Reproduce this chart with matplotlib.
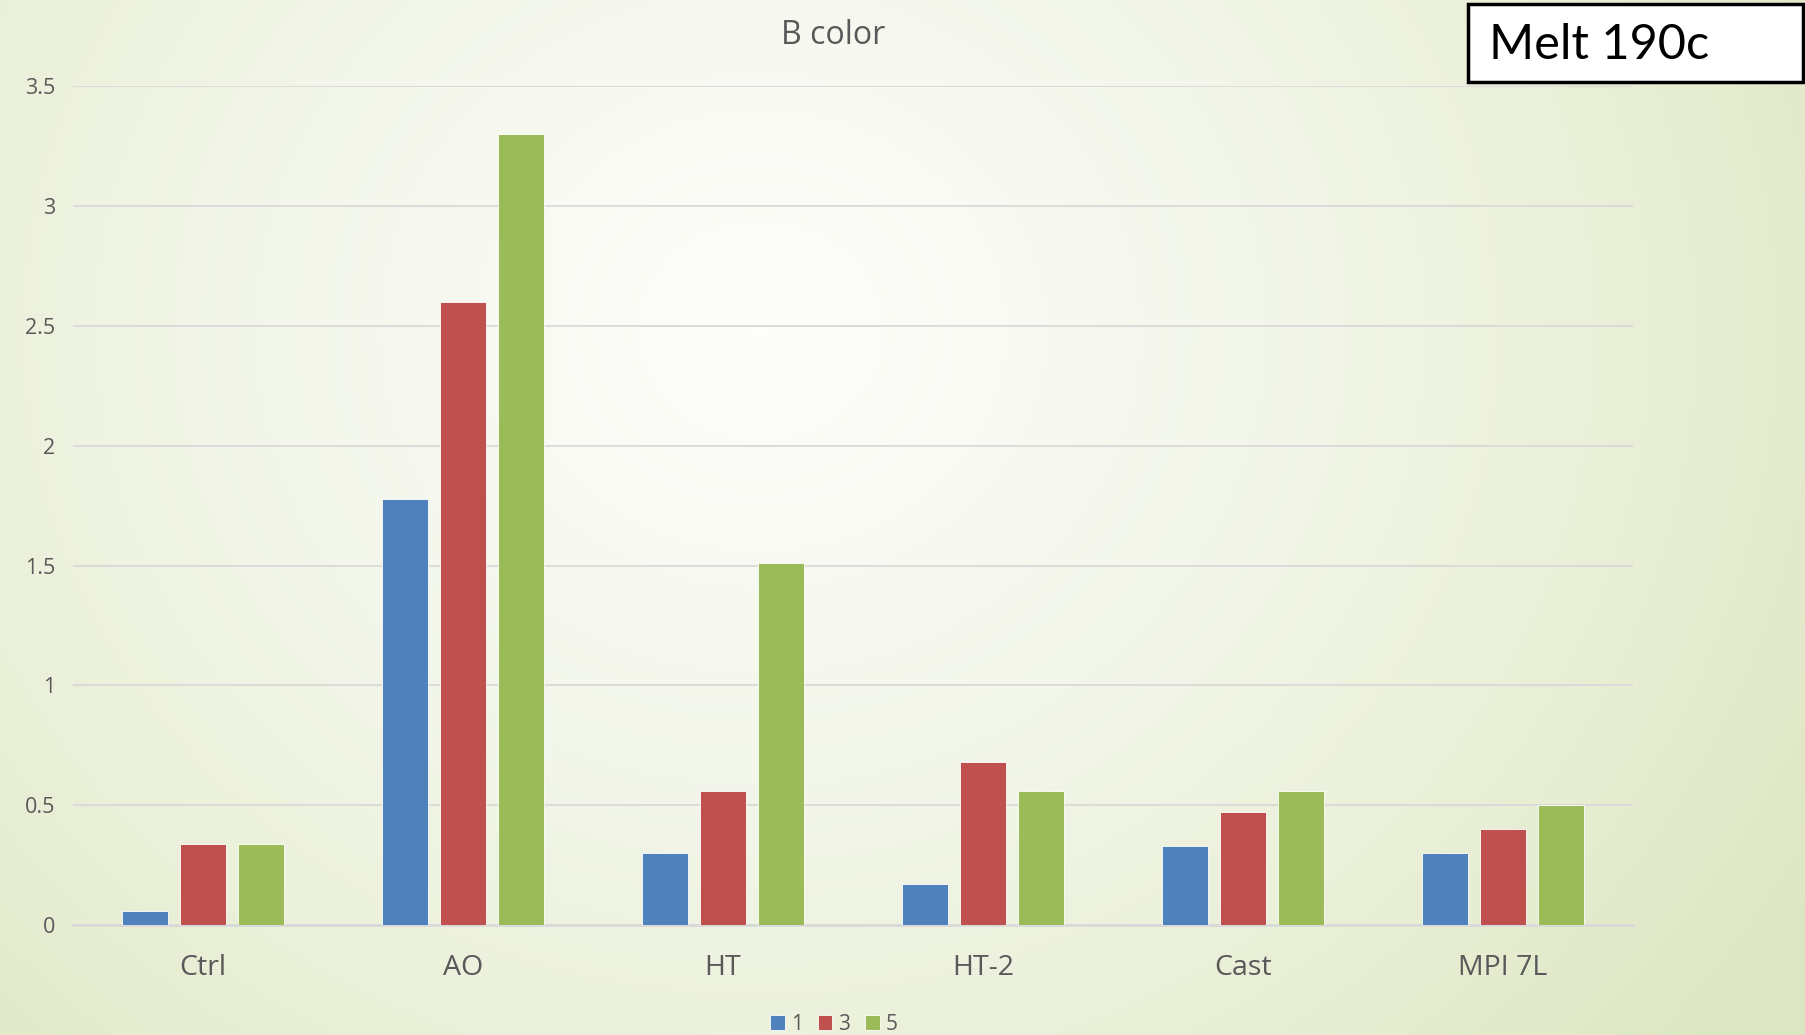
import numpy as np
import matplotlib.pyplot as plt
from matplotlib.colors import LinearSegmentedColormap
from matplotlib.patches import Rectangle

categories = ["Ctrl", "AO", "HT", "HT-2", "Cast", "MPI 7L"]
series_names = ["1", "3", "5"]
values_1 = [0.06, 1.78, 0.30, 0.17, 0.33, 0.30]
values_3 = [0.34, 2.60, 0.56, 0.68, 0.47, 0.40]
values_5 = [0.34, 3.30, 1.51, 0.56, 0.56, 0.50]
y_ticks = [0, 0.5, 1, 1.5, 2, 2.5, 3, 3.5]

colors = ["#4F81BD", "#C0504D", "#9BBB59"]
text_gray = "#595959"
grid_gray = "#D9D9D9"

W, H = 1806, 1035
fig = plt.figure(figsize=(W / 100, H / 100), dpi=100)

# slide background: soft radial wash, white in the middle, pale green at the rim
bg = fig.add_axes([0, 0, 1, 1], zorder=-10)
yy, xx = np.mgrid[0:H, 0:W]
r = np.hypot((xx - 760) / 1.0, (yy - 330) / 0.9) / 1250.0
r = np.clip(r, 0, 1) ** 1.2
wash = LinearSegmentedColormap.from_list(
    "wash", ["#FDFDFA", "#F3F6EA", "#E9EFD6", "#DDE6C2"])
bg.imshow(r, cmap=wash, vmin=0, vmax=1, aspect="auto", interpolation="bilinear")
bg.set_axis_off()

ax = fig.add_axes([73 / W, 1 - 925 / H, (1633 - 73) / W, (925 - 86.4) / H])
ax.patch.set_alpha(0)

x = np.arange(len(categories))
step = 0.222
width = 0.176
for i, (vals, name) in enumerate(zip([values_1, values_3, values_5], series_names)):
    ax.bar(x + (i - 1) * step, vals, width, color=colors[i], label=name,
           edgecolor="white", linewidth=0.6, zorder=3)

ax.set_xlim(-0.5, len(categories) - 0.5)
ax.set_ylim(0, 3.5)
ax.set_yticks(y_ticks)
ax.set_yticklabels(["0", "0.5", "1", "1.5", "2", "2.5", "3", "3.5"])
ax.set_xticks(x)
ax.set_xticklabels(categories)
ax.tick_params(axis="y", length=0, pad=13, labelsize=15.5, labelcolor=text_gray)
ax.tick_params(axis="x", length=0, pad=21, labelsize=20.5, labelcolor=text_gray)
for lbl in ax.get_xticklabels() + ax.get_yticklabels():
    lbl.set_fontfamily("Open Sans")
ax.grid(axis="y", color=grid_gray, linewidth=1.3, zorder=0)
for s in ["top", "right", "left"]:
    ax.spines[s].set_visible(False)
ax.spines["bottom"].set_color(grid_gray)
ax.spines["bottom"].set_linewidth(2)

fig.text(833 / W, 1 - 36 / H, "B color", ha="center", va="center",
         fontsize=23, color=text_gray, family="Open Sans")

leg = fig.legend(loc="center", bbox_to_anchor=(834 / W, 1 - 1024 / H), ncol=3,
                 frameon=False, fontsize=15, handlelength=0.7, handleheight=0.7,
                 handletextpad=0.3, columnspacing=0.7)
for t in leg.get_texts():
    t.set_color(text_gray)
    t.set_fontfamily("Open Sans")

# label box in the top right corner
box = Rectangle((1468 / W, 1 - 82 / H), (1803 - 1468) / W, (82 - 4) / H,
                transform=fig.transFigure, facecolor="white", edgecolor="black",
                linewidth=2.5, zorder=5)
fig.patches.append(box)
fig.text(1489 / W, 1 - 45 / H, "Melt 190c", ha="left", va="center",
         fontsize=35, color="black", family="Lato", zorder=6)

fig.savefig("out.png", dpi=100)
